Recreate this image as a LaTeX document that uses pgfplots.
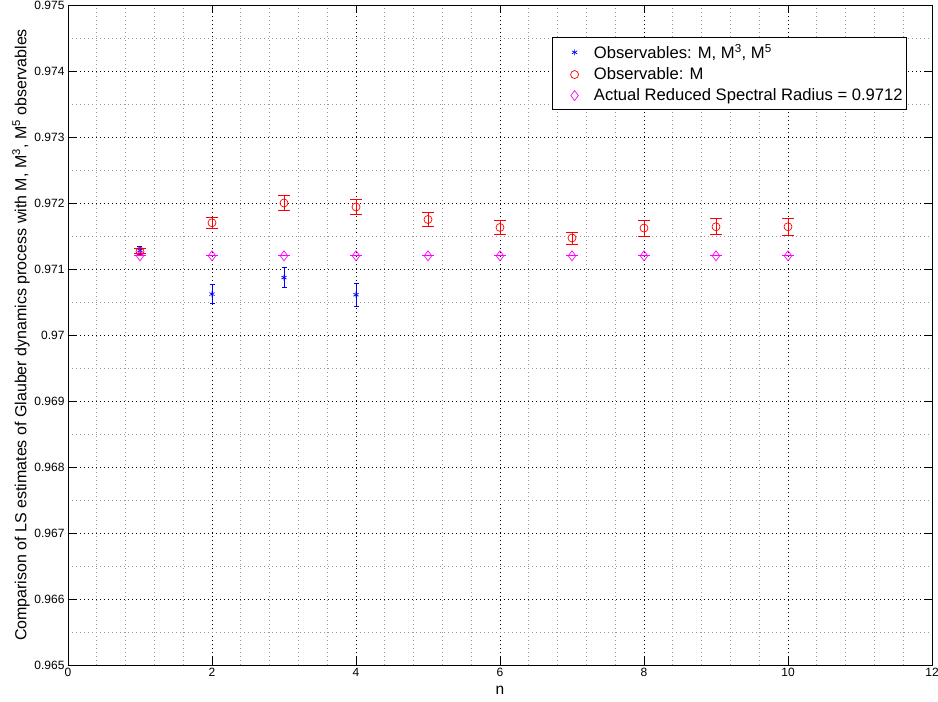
\documentclass[border=0pt]{standalone}
\usepackage{fontspec}
\setmainfont{Liberation Sans}
\usepackage{pgfplots}
\pgfplotsset{compat=1.18}

\definecolor{mblue}{RGB}{0,0,255}
\definecolor{mred}{RGB}{255,0,0}
\definecolor{mmag}{RGB}{255,0,255}

\begin{document}
\begin{tikzpicture}
  \useasboundingbox (-68pt,-37pt) rectangle (870pt,665pt);
  \begin{axis}[
      scale only axis,
      width=864pt, height=660pt,
      xmin=0, xmax=12, ymin=0.965, ymax=0.975,
      xtick={0,2,...,12},
      ytick={0.965,0.966,...,0.975},
      minor x tick num=4,
      minor y tick num=1,
      scaled y ticks=false,
      tick align=inside,
      major tick length=8pt,
      minor tick length=0pt,
      axis line style={line width=0.9pt},
      tick style={black, line width=0.7pt},
      grid=both,
      major grid style={black, line width=0.8pt, dash pattern=on 0.8pt off 3.2pt},
      minor grid style={gray!80, line width=0.7pt, dash pattern=on 0.7pt off 3.3pt},
      /pgf/number format/assume math mode=true,
      tick label style={font=\fontsize{12}{14}\selectfont},
      yticklabel style={/pgf/number format/.cd, fixed, precision=3},
      xlabel={n},
      ylabel={Comparison of LS estimates of Glauber dynamics process with M, M\textsuperscript{3}, M\textsuperscript{5} observables},
      every axis x label/.style={at={(axis description cs:0.5,0)}, yshift=-25pt, anchor=center,
        font=\fontsize{15.5}{17}\selectfont},
      every axis y label/.style={at={(axis description cs:0,0.5)}, xshift=-47pt, rotate=90, anchor=center,
        font=\fontsize{16}{18}\selectfont},
      legend image code/.code={\path (-20pt,0pt) (17pt,0pt); \draw plot coordinates {(0pt,0pt)};},
      legend style={at={(0.9711,0.9515)}, anchor=north east, draw=black, line width=0.8pt,
        font=\fontsize{16.6}{19}\selectfont, legend cell align=left, inner xsep=2pt, inner ysep=5pt,
        row sep=3.5pt},
    ]
    \addplot[only marks, mark=asterisk, mark size=3pt, mblue, line width=0.7pt,
      error bars/.cd, y dir=both, y explicit,
      error bar style={line width=0.8pt},
      error mark options={rotate=90, mark size=2.5pt, line width=0.8pt}]
      coordinates {
        (1,0.97128) +- (0,0.00006)
        (2,0.97062) +- (0,0.00014)
        (3,0.97087) +- (0,0.00015)
        (4,0.97061) +- (0,0.00017)
      };
    \addlegendentry{Observables: M, M\textsuperscript{3}, M\textsuperscript{5}}
    \addplot[only marks, mark=o, mark size=4pt, mred, line width=0.7pt,
      error bars/.cd, y dir=both, y explicit,
      error bar style={line width=0.8pt},
      error mark options={rotate=90, mark size=6pt, line width=0.8pt}]
      coordinates {
        (1,0.97127) +- (0,0.00004)
        (2,0.97170) +- (0,0.00008)
        (3,0.97200) +- (0,0.00011)
        (4,0.97194) +- (0,0.00011)
        (5,0.97175) +- (0,0.00010)
        (6,0.97163) +- (0,0.00010)
        (7,0.97147) +- (0,0.00009)
        (8,0.97162) +- (0,0.00012)
        (9,0.97164) +- (0,0.00012)
        (10,0.97164) +- (0,0.00013)
      };
    \addlegendentry{Observable: M}
    \addplot[only marks, mark=diamond, mark size=5pt, mmag, line width=0.7pt,
      error bars/.cd, y dir=both, y explicit,
      error bar style={line width=0.8pt},
      error mark options={rotate=90, mark size=6pt, line width=0.8pt}]
      coordinates {
        (1,0.9712) +- (0,0)
        (2,0.9712) +- (0,0)
        (3,0.9712) +- (0,0)
        (4,0.9712) +- (0,0)
        (5,0.9712) +- (0,0)
        (6,0.9712) +- (0,0)
        (7,0.9712) +- (0,0)
        (8,0.9712) +- (0,0)
        (9,0.9712) +- (0,0)
        (10,0.9712) +- (0,0)
      };
    \addlegendentry{Actual Reduced Spectral Radius = 0.9712}
  \end{axis}
\end{tikzpicture}
\end{document}
